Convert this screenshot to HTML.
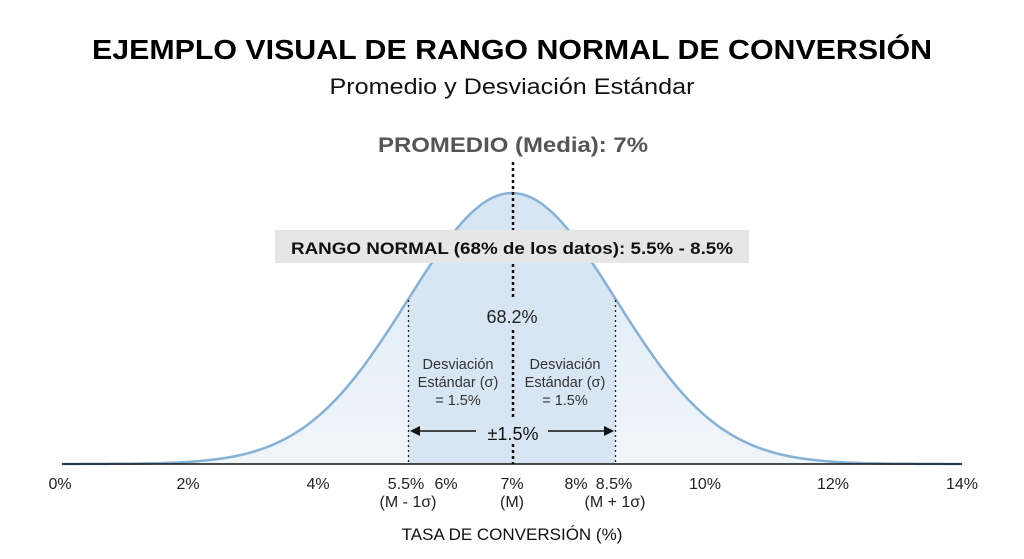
<!DOCTYPE html>
<html><head><meta charset="utf-8"><style>
html,body{margin:0;padding:0;background:#fff;}
svg{display:block;font-family:"Liberation Sans",sans-serif;}
</style></head><body>
<svg id="s" width="1024" height="559" viewBox="0 0 1024 559" xmlns="http://www.w3.org/2000/svg">
<rect width="1024" height="559" fill="#fff"/>
<defs>
<linearGradient id="g" x1="0" y1="0" x2="0" y2="1"><stop offset="0" stop-color="#dce8f4"/><stop offset="1" stop-color="#f0f5fb"/></linearGradient>
<clipPath id="c"><rect x="408" y="0" width="207" height="464"/></clipPath>
</defs>
<path id="fill" fill="url(#g)"/>
<path id="fill2" fill="#d8e6f3" clip-path="url(#c)"/>
<path id="curve" fill="none" stroke="#86b0d6" stroke-width="2.5"/>
<line x1="62" y1="464" x2="962" y2="464" stroke="#111" stroke-width="1.5"/>
<line x1="513" y1="162" x2="513" y2="464" stroke="#111" stroke-width="2.5" stroke-dasharray="3,3"/>
<line x1="408.5" y1="300" x2="408.5" y2="464" stroke="#222" stroke-width="1.3" stroke-dasharray="2,3"/>
<line x1="615.5" y1="300" x2="615.5" y2="464" stroke="#222" stroke-width="1.3" stroke-dasharray="2,3"/>
<text x="512" y="59" text-anchor="middle" font-size="28" font-weight="bold" textLength="840" lengthAdjust="spacingAndGlyphs" fill="#000">EJEMPLO VISUAL DE RANGO NORMAL DE CONVERSIÓN</text>
<text x="512" y="94" text-anchor="middle" font-size="22" textLength="365" lengthAdjust="spacingAndGlyphs" fill="#111">Promedio y Desviación Estándar</text>
<text x="513" y="152" text-anchor="middle" font-size="21" font-weight="bold" textLength="270" lengthAdjust="spacingAndGlyphs" fill="#555">PROMEDIO (Media): 7%</text>
<rect x="275" y="230" width="474" height="33" fill="#e6e6e6"/>
<text x="512" y="254" text-anchor="middle" font-size="17" font-weight="bold" textLength="442" lengthAdjust="spacingAndGlyphs" fill="#111">RANGO NORMAL (68% de los datos): 5.5% - 8.5%</text>
<rect x="482" y="300" width="62" height="30" fill="#d8e6f3"/>
<text x="512" y="323" text-anchor="middle" font-size="18" fill="#222">68.2%</text>
<g font-size="14.5" fill="#333" text-anchor="middle">
<text x="458" y="369">Desviación</text><text x="458" y="387">Estándar (σ)</text><text x="458" y="405">= 1.5%</text>
<text x="565" y="369">Desviación</text><text x="565" y="387">Estándar (σ)</text><text x="565" y="405">= 1.5%</text>
</g>
<rect x="480" y="418" width="66" height="26" fill="#d8e6f3"/>
<text x="513" y="440" text-anchor="middle" font-size="18" fill="#111">±1.5%</text>
<line x1="414" y1="431" x2="476" y2="431" stroke="#111" stroke-width="1.5"/>
<line x1="548" y1="431" x2="610" y2="431" stroke="#111" stroke-width="1.5"/>
<path d="M410 431 L420 426 L420 436 Z" fill="#111"/>
<path d="M614 431 L604 426 L604 436 Z" fill="#111"/>
<g font-size="16" fill="#222" text-anchor="middle">
<text x="60" y="489">0%</text><text x="188" y="489">2%</text><text x="318" y="489">4%</text>
<text x="406" y="489">5.5%</text><text x="446" y="489">6%</text><text x="512" y="489">7%</text>
<text x="576" y="489">8%</text><text x="614" y="489">8.5%</text><text x="705" y="489">10%</text>
<text x="833" y="489">12%</text><text x="962" y="489">14%</text>
<text x="408" y="507">(M - 1σ)</text><text x="512" y="507">(M)</text><text x="615" y="507">(M + 1σ)</text>
</g>
<text x="512" y="540" text-anchor="middle" font-size="17" fill="#111">TASA DE CONVERSIÓN (%)</text>
</svg>
<script>
var pts=[];for(var x=62;x<=962;x+=3){var y=464-271*Math.exp(-0.5*Math.pow((x-512)/104,2));pts.push(x+","+y.toFixed(1));}
var d="M"+pts.join(" L");
document.getElementById("curve").setAttribute("d",d);
document.getElementById("fill").setAttribute("d",d+" L962,464 L62,464 Z");
document.getElementById("fill2").setAttribute("d",d+" L962,464 L62,464 Z");
</script>
</body></html>
